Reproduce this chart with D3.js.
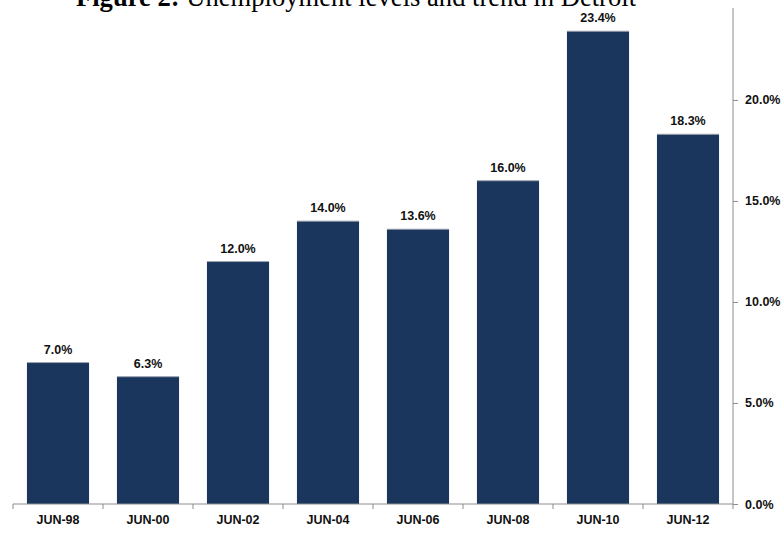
<!DOCTYPE html>
<html><head><meta charset="utf-8">
<script src="https://cdn.jsdelivr.net/npm/d3@7"></script>
<style>body{margin:0;background:#fff}svg{display:block}</style>
</head><body>
<svg id="c" width="781" height="533"></svg>
<script>
const categories = ["JUN-98","JUN-00","JUN-02","JUN-04","JUN-06","JUN-08","JUN-10","JUN-12"];
const values = [7.0, 6.3, 12.0, 14.0, 13.6, 16.0, 23.4, 18.3];
const yTicks = [0, 5, 10, 15, 20];

(function(){
const svg = d3.select("#c");
const pLeft = 13, pRight = 733, pTop = 8, pBottom = 504;
const x = d3.scaleBand().domain(categories).range([pLeft, pRight]).paddingInner(0.31).paddingOuter(0.155);
const y = d3.scaleLinear().domain([0, 24.55]).range([pBottom, pTop]);
const font = "'Liberation Sans Narrow','Arial Narrow','Liberation Sans',Arial,sans-serif";

svg.append("text").attr("x", 356).attr("y", 6).attr("text-anchor", "middle")
  .attr("font-family", "'Liberation Serif','Times New Roman',serif").attr("font-size", 26.6)
  .html('<tspan font-weight="bold">Figure 2:</tspan> Unemployment levels and trend in Detroit');

svg.selectAll("rect.bar").data(values).join("rect").attr("class","bar")
  .attr("x", (d,i) => x(categories[i])).attr("width", x.bandwidth())
  .attr("y", d => y(d)).attr("height", d => pBottom - y(d))
  .attr("fill", "#1b365d");
svg.selectAll("line.topline").data(values).join("line").attr("class","topline")
  .attr("x1", (d,i) => x(categories[i])).attr("x2", (d,i) => x(categories[i]) + x.bandwidth())
  .attr("y1", d => y(d)).attr("y2", d => y(d)).attr("stroke", "#9aa3ad").attr("stroke-width", 1);

svg.selectAll("text.val").data(values).join("text").attr("class","val")
  .attr("x", (d,i) => x(categories[i]) + x.bandwidth()/2).attr("y", d => y(d) - 9)
  .attr("text-anchor","middle").attr("font-family", font).attr("font-weight","bold")
  .attr("font-size", 12.5).attr("fill","#111")
  .text(d => d.toFixed(1) + "%");

const xa = svg.append("g");
xa.append("line").attr("x1", pLeft).attr("x2", pRight).attr("y1", pBottom).attr("y2", pBottom).attr("stroke","#8c8c8c");
const step = (pRight-pLeft)/categories.length;
d3.range(categories.length+1).forEach(i => {
  xa.append("line").attr("x1", pLeft + i*step).attr("x2", pLeft + i*step).attr("y1", pBottom).attr("y2", pBottom+5).attr("stroke","#8c8c8c");
});
xa.selectAll("text").data(categories).join("text")
  .attr("x", d => x(d) + x.bandwidth()/2).attr("y", 524).attr("text-anchor","middle")
  .attr("font-family", font).attr("font-weight","bold").attr("font-size", 12.5).attr("fill","#111")
  .text(d => d);

const ya = svg.append("g").attr("transform", `translate(${pRight},0)`)
  .call(d3.axisRight(y).tickValues(yTicks).tickSize(5).tickPadding(7).tickFormat(d => d.toFixed(1) + "%"));
ya.select(".domain").attr("stroke","#8c8c8c").attr("d", `M0,${pTop}V${pBottom}`);
ya.selectAll(".tick line").attr("stroke","#8c8c8c");
ya.selectAll(".tick text").attr("font-family", font).attr("font-weight","bold").attr("font-size", 12.5).attr("fill","#111");
})();
</script>
</body></html>
